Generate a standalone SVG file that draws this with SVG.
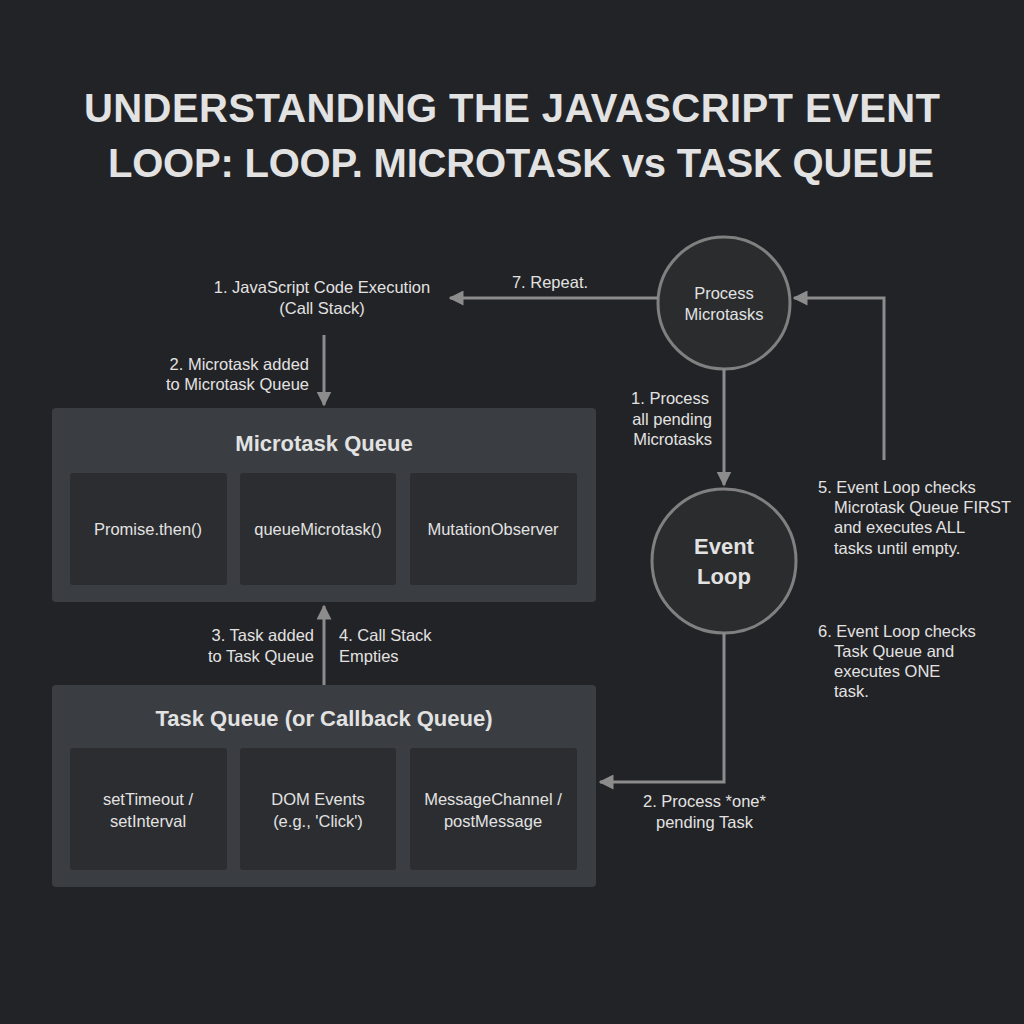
<svg xmlns="http://www.w3.org/2000/svg" width="1024" height="1024" viewBox="0 0 1024 1024">
<defs>
<marker id="ah" viewBox="0 0 10 10" refX="9" refY="5" markerWidth="5" markerHeight="5" orient="auto-start-reverse"><path d="M0,0L10,5L0,10z" fill="#8c8c8c"/></marker>
<style>
text{font-family:"Liberation Sans",Arial,sans-serif;fill:#e2e2e2}
.t{font-size:16.5px}
.h{font-size:22px;font-weight:bold;text-anchor:middle}
.c{text-anchor:middle}
.e{text-anchor:end}
.outer{fill:#3a3d41}
.inner{fill:#2b2d30}
.ln{stroke:#8c8c8c;stroke-width:3;fill:none}
.circ{fill:#2a2c2e;stroke:#808080;stroke-width:3}
</style>
</defs>
<rect width="1024" height="1024" fill="#222326"/>
<g id="title"><text x="512" y="122" class="c" font-size="40" font-weight="bold" textLength="856">UNDERSTANDING THE JAVASCRIPT EVENT</text><text x="521" y="177" class="c" font-size="40" font-weight="bold" textLength="826">LOOP: LOOP. MICROTASK vs TASK QUEUE</text></g>
<g id="microtask-queue">
<rect class="outer" x="52" y="408" width="544" height="194" rx="4"/>
<text x="324" y="451" class="h">Microtask Queue</text>
<rect class="inner" x="70" y="473" width="157" height="112" rx="3"/><text x="148" y="535" class="t c">Promise.then()</text>
<rect class="inner" x="240" y="473" width="156" height="112" rx="3"/><text x="318" y="535" class="t c">queueMicrotask()</text>
<rect class="inner" x="410" y="473" width="167" height="112" rx="3"/><text x="493" y="535" class="t c">MutationObserver</text>
</g>
<g id="task-queue">
<rect class="outer" x="52" y="685" width="544" height="202" rx="4"/>
<text x="324" y="726" class="h">Task Queue (or Callback Queue)</text>
<rect class="inner" x="70" y="748" width="157" height="122" rx="3"/><text x="148" y="805" class="t c">setTimeout /</text><text x="148" y="827" class="t c">setInterval</text>
<rect class="inner" x="240" y="748" width="156" height="122" rx="3"/><text x="318" y="805" class="t c">DOM Events</text><text x="318" y="827" class="t c">(e.g., 'Click')</text>
<rect class="inner" x="410" y="748" width="167" height="122" rx="3"/><text x="493" y="805" class="t c">MessageChannel /</text><text x="493" y="827" class="t c">postMessage</text>
</g>
<g id="process-microtasks"><circle class="circ" cx="724" cy="303" r="66"/><text x="724" y="299" class="t c">Process</text><text x="724" y="320" class="t c">Microtasks</text></g>
<g id="event-loop"><circle class="circ" cx="724" cy="561" r="72"/><text x="724" y="554" class="c" font-size="22" font-weight="bold">Event</text><text x="724" y="584" class="c" font-size="22" font-weight="bold">Loop</text></g>
<g id="connectors">
<path class="ln" d="M658,298H450" marker-end="url(#ah)"/>
<path class="ln" d="M324,335V405" marker-end="url(#ah)"/>
<path class="ln" d="M324,685V606" marker-end="url(#ah)"/>
<path class="ln" d="M724,369V485" marker-end="url(#ah)"/>
<path class="ln" d="M724,633V782H600" marker-end="url(#ah)"/>
<path class="ln" d="M884,460V298H794" marker-end="url(#ah)"/>
</g>
<g id="labels" class="t">
<text x="550" y="288" class="t c">7. Repeat.</text>
<text x="322" y="293" class="t c">1. JavaScript Code Execution</text><text x="322" y="314" class="t c">(Call Stack)</text>
<text x="309" y="370" class="t e">2. Microtask added</text><text x="309" y="390" class="t e">to Microtask Queue</text>
<text x="314" y="641" class="t e">3. Task added</text><text x="314" y="662" class="t e">to Task Queue</text>
<text x="339" y="641" class="t">4. Call Stack</text><text x="339" y="662" class="t">Empties</text>
<text x="709" y="404" class="t e">1. Process</text><text x="712" y="425" class="t e">all pending</text><text x="712" y="445" class="t e">Microtasks</text>
<text x="643" y="807" class="t">2. Process *one*</text><text x="656" y="828" class="t">pending Task</text>
<text x="818" y="493" class="t">5. Event Loop checks</text><text x="834" y="513" class="t">Microtask Queue FIRST</text><text x="834" y="533" class="t">and executes ALL</text><text x="834" y="554" class="t">tasks until empty.</text>
<text x="818" y="637" class="t">6. Event Loop checks</text><text x="834" y="657" class="t">Task Queue and</text><text x="834" y="677" class="t">executes ONE</text><text x="834" y="697" class="t">task.</text>
</g>
</svg>
